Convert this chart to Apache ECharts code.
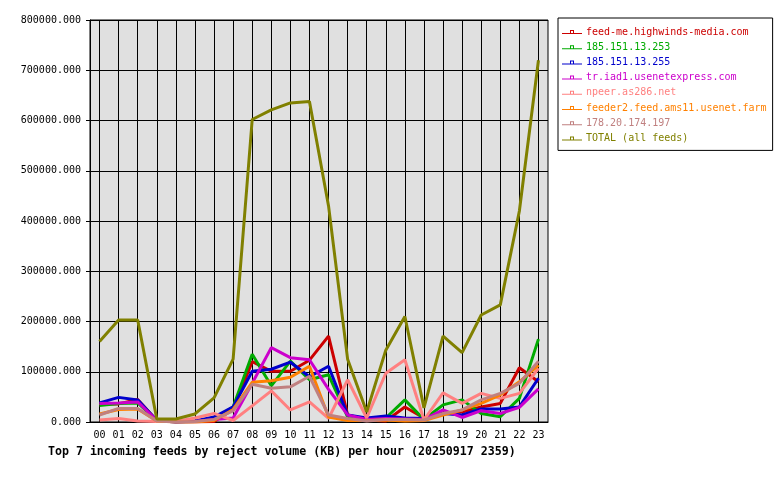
<!DOCTYPE html>
<html>
<head>
    <meta charset="utf-8">
    <title>Top 7 incoming feeds by reject volume</title>
    <script src="https://cdn.jsdelivr.net/npm/echarts@6/dist/echarts.min.js"></script>
</head>
<body style="margin:0;background:#fff;">
    <div id="main" style="width:780px;height:480px;"></div>
    <script type="text/javascript">
    var myChart = echarts.init(document.getElementById('main'));

    // Data (KB per hour)
    var hours = ['00','01','02','03','04','05','06','07','08','09','10','11',
                 '12','13','14','15','16','17','18','19','20','21','22','23'];
    var feedNames = ['feed-me.highwinds-media.com', '185.151.13.253', '185.151.13.255',
                     'tr.iad1.usenetexpress.com', 'npeer.as286.net',
                     'feeder2.feed.ams11.usenet.farm', '178.20.174.197', 'TOTAL (all feeds)'];
    var feedColors = ['#cc0000', '#00aa00', '#0000cc', '#cc00cc', '#ff8080', '#ff8000', '#c08080', '#808000'];

    var highwinds = [36000,36000,45000,3000,0,0,1000,25000,120000,101000,101000,123000,
                     171000,14000,4000,2000,30000,8000,18000,20000,30000,37000,108000,80000];
    var ip253 = [33000,37000,38000,3000,0,1000,5000,30000,135000,72000,121000,84000,
                 94000,10000,3000,8000,44000,5000,34000,44000,17000,10500,47000,165000];
    var ip255 = [38000,49000,44000,3000,0,2000,10000,30000,101000,105000,119000,90000,
                 111000,14000,8000,12000,8000,7000,17000,14000,26000,26000,30000,87000];
    var usenetexpress = [37000,38000,40000,3000,0,1000,5000,8000,77000,148000,128000,124000,
                         65000,14000,5000,7000,6000,5000,24000,9000,22500,17000,29000,66000];
    var npeer = [4000,7000,2000,1000,1000,8000,17000,3000,32000,62000,24000,40000,
                 7000,84000,8000,97000,124000,4000,58000,37000,57000,47000,57000,107000];
    var feeder2 = [16000,25000,26000,2000,0,0,3000,25000,79000,82000,89000,111000,
                   10000,3000,3000,4000,2000,3000,14000,24000,37000,54000,80000,113000];
    var ip197 = [14000,27000,27000,2000,0,1000,5000,22000,75000,67000,70000,91000,
                 14000,7000,2000,5000,5000,4000,17000,24000,44000,57000,77000,121000];
    var total = [160000,203000,203000,6000,6000,16000,48000,125000,602000,621000,635000,638000,
                 430000,125000,20000,143000,210000,28000,171000,138000,213000,233000,420000,720000];

    var feedData = [highwinds, ip253, ip255, usenetexpress, npeer, feeder2, ip197, total];

    var monoFont = 'DejaVu Sans Mono';
    // legend mark: thin line with a tiny open square sitting on it
    var legendMark = 'path://M0,3H20V4H0Z M8,0H9V3H8Z M11,0H12V3H11Z M9,0H11V1H9Z';

    var series = feedNames.map(function (name, i) {
      return {
        name: name,
        type: 'line',
        data: feedData[i],
        showSymbol: false,
        animation: false,
        itemStyle: { color: feedColors[i] },
        lineStyle: { color: feedColors[i], width: 3 }
      };
    });

    var option = {
      backgroundColor: '#ffffff',
      title: {
        text: 'Top 7 incoming feeds by reject volume (KB) per hour (20250917 2359)',
        left: 48,
        top: 446,
        padding: 0,
        textStyle: {
          fontFamily: monoFont,
          fontSize: 11.6,
          fontWeight: 'bold',
          color: '#000'
        }
      },
      legend: {
        orient: 'vertical',
        left: 558,
        top: 18,
        padding: [9, 6, 7, 4],
        itemGap: 5.2,
        itemWidth: 20,
        itemHeight: 4,
        icon: legendMark,
        backgroundColor: '#fff',
        borderColor: '#000',
        borderWidth: 1,
        data: feedNames.map(function (name, i) {
          return { name: name, textStyle: { color: feedColors[i] } };
        }),
        textStyle: {
          fontFamily: monoFont,
          fontSize: 10,
          lineHeight: 10,
          padding: [0, 0, 0, -1]
        }
      },
      grid: {
        left: 90,
        top: 20,
        width: 458,
        height: 402,
        show: true,
        backgroundColor: '#e0e0e0',
        borderColor: '#000',
        borderWidth: 1
      },
      xAxis: {
        type: 'category',
        data: hours,
        boundaryGap: true,
        axisLine: { lineStyle: { color: '#000', width: 1 } },
        axisTick: { alignWithLabel: true, length: 4, lineStyle: { color: '#000' } },
        axisLabel: { color: '#000', fontFamily: monoFont, fontSize: 10, margin: 8 },
        splitLine: { show: true, alignWithLabel: true, lineStyle: { color: '#000', width: 1 } }
      },
      yAxis: {
        type: 'value',
        min: 0,
        max: 800000,
        interval: 100000,
        axisLine: { show: true, lineStyle: { color: '#000', width: 1 } },
        axisTick: { show: true, length: 4, lineStyle: { color: '#000' } },
        axisLabel: {
          color: '#000',
          fontFamily: monoFont,
          fontSize: 10,
          margin: 9,
          formatter: function (v) { return v.toFixed(3); }
        },
        splitLine: { show: true, lineStyle: { color: '#000', width: 1 } }
      },
      series: series
    };

    myChart.setOption(option);
    </script>
</body>
</html>
